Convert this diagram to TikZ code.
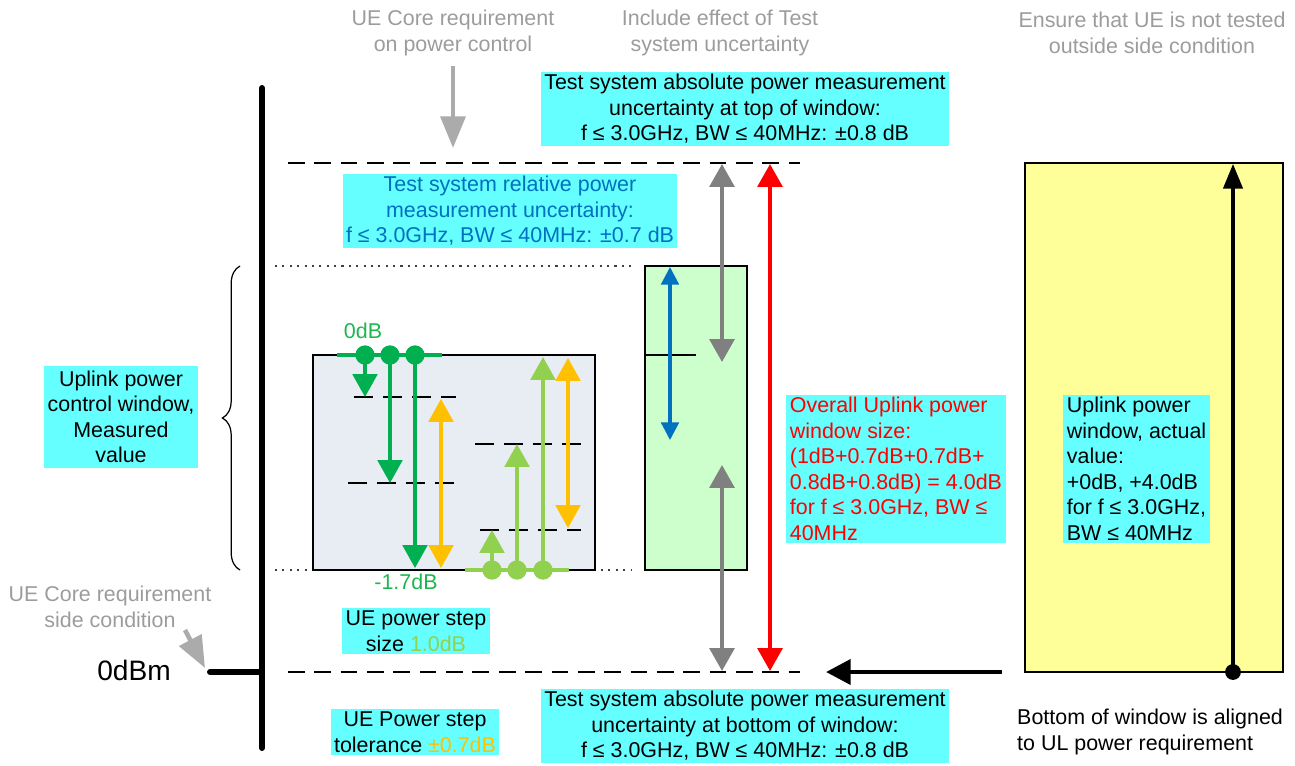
\documentclass[tikz,border=0pt]{standalone}
\usepackage{fontspec}
\setmainfont{Liberation Sans}
\usetikzlibrary{arrows.meta,decorations.pathreplacing}
\definecolor{lblcyan}{HTML}{66FFFF}
\definecolor{dgreen}{HTML}{00B050}
\definecolor{lgreen}{HTML}{92D050}
\definecolor{amber}{HTML}{FFC000}
\definecolor{ublue}{HTML}{0070C0}
\definecolor{notegray}{HTML}{9C9C9C}
\definecolor{arrgray}{HTML}{808080}
\definecolor{boxgray}{HTML}{E8ECF3}
\definecolor{boxgreen}{HTML}{CCFFCC}
\definecolor{boxyellow}{HTML}{FFFF99}

\begin{document}
\begin{tikzpicture}[x=0.02cm,y=-0.02cm,font=\fontsize{12.2}{14.5}\selectfont,
  lbl/.style={fill=lblcyan,inner xsep=2pt,inner ysep=1.5pt,align=center},
  note/.style={notegray,align=center},
  lvl/.style={thick,dash pattern=on 11pt off 5.5pt},
  longdash/.style={line width=1.1pt,dash pattern=on 9.5pt off 5.5pt},
  dots/.style={darkgray,line width=1pt,dash pattern=on 1.2pt off 3pt},
  gdot/.style={circle,fill=dgreen,inner sep=0pt,minimum size=11pt},
  ldot/.style={circle,fill=lgreen,inner sep=0pt,minimum size=11pt},
  garr/.style={dgreen,line width=1.8pt,-{Triangle[length=13pt,width=14pt]}},
  lgarr/.style={lgreen,line width=1.8pt,-{Triangle[length=13pt,width=14pt]}},
  oarr/.style={amber,line width=1.8pt,{Triangle[length=13pt,width=14pt]}-{Triangle[length=13pt,width=14pt]}},
  barr/.style={ublue,line width=1.8pt,{Triangle[length=10pt,width=10pt]}-{Triangle[length=10pt,width=10pt]}},
  grarr/.style={arrgray,line width=2.2pt,{Triangle[length=13pt,width=14pt]}-{Triangle[length=13pt,width=14pt]}},
  rarr/.style={red,line width=2.2pt,{Triangle[length=13pt,width=14pt]}-{Triangle[length=13pt,width=14pt]}},
  notearr/.style={notegray!85!white,line width=2.6pt,-{Triangle[length=18pt,width=14pt]}}]
  \useasboundingbox (0,0) rectangle (1295,765);
  % boxes
  \fill[boxyellow,draw=black,thick] (1025,163) rectangle (1283,672);
  \fill[boxgreen,draw=black,thick] (645,266) rectangle (747,570);
  \fill[boxgray,draw=black,thick] (313,355) rectangle (595,570);
  % axis with 0dBm tick
  \draw[line width=3.4pt,line cap=round] (262,88) -- (262,748);
  \draw[line width=3.4pt,line cap=round] (210,672) -- (262,672);
  \node (zero) at (134,670) {\fontsize{16}{18}\selectfont 0dBm};
  % window limits
  \draw[longdash] (288,163) -- (800,163);
  \draw[longdash] (288,672) -- (800,672);
  \draw[dots] (275,266) -- (632,266);
  \draw[dots] (275,570) -- (307,570) (601,570) -- (632,570);
  \draw[thick] (645,355) -- (696,355);
  \draw[decorate,decoration={brace,amplitude=10pt},line width=0.7pt] (240,570) -- (240,266);
  % step levels
  \draw[lvl] (354,397) -- (456,397);
  \draw[lvl] (348,483) -- (463,483);
  \draw[lvl] (475,444) -- (589,444);
  \draw[lvl] (480,530) -- (581,530);
  % steps down from 0dB
  \draw[dgreen,line width=1.8pt] (337,355) -- (442,355);
  \foreach \x/\n in {365/a,390/b,415/c}
    \node[gdot] (top\n) at (\x,355) {};
  \draw[garr] (topa.center) -- (365,397);
  \draw[garr] (topb.center) -- (390,483);
  \draw[garr] (topc.center) -- (415,568);
  \draw[oarr] (441,399) -- (441,568);
  % steps up from -1.7dB
  \draw[lgreen,line width=1.8pt] (465,570) -- (569,570);
  \foreach \x/\n in {492/a,517/b,543/c}
    \node[ldot] (bot\n) at (\x,570) {};
  \draw[lgarr] (bota.center) -- (492,530);
  \draw[lgarr] (botb.center) -- (517,444);
  \draw[lgarr] (botc.center) -- (543,357);
  \draw[oarr] (568,358) -- (568,528);
  \node[dgreen!80!lgreen] (zerodb) at (363,331) {0dB};
  \node[dgreen!80!lgreen] (minusdb) at (406,582) {-1.7dB};
  % uncertainties
  \draw[barr] (670,267) -- (670,440);
  \draw[grarr] (722,164) -- (722,362);
  \draw[grarr] (722,465) -- (722,671);
  \draw[rarr] (770,164) -- (770,671);
  % actual window
  \node[circle,fill=black,inner sep=0pt,minimum size=9pt] (base) at (1233,672) {};
  \draw[line width=1.8pt,-{Triangle[length=14pt,width=11pt]}] (base.center) -- (1233,164);
  \draw[line width=2.8pt,-{Triangle[length=14pt,width=14pt]}] (1002,672) -- (826,672);
  % notes
  \node[note] (corepc) at (453,33) {UE Core requirement\\on power control};
  \node[note] (inclts) at (720,33) {Include effect of Test\\system uncertainty};
  \node[note] (ensure) at (1152,33) {Ensure that UE is not tested\\outside side condition};
  \node[note] (coreside) at (110,607) {UE Core requirement\\side condition};
  \draw[notearr] (453,66) -- (453,148);
  \draw[notearr] (185,630) -- (205,668);
  \node[align=left,anchor=west] (aligned) at (1011,732) {Bottom of window is aligned\\to UL power requirement};
  % labels
  \node[lbl] (abstop) at (745,109) {Test system absolute power measurement\\uncertainty at top of window:\\f ≤ 3.0GHz, BW ≤ 40MHz: ±0.8 dB};
  \node[lbl,text=ublue] (relunc) at (510,211) {Test system relative power\\measurement uncertainty:\\f ≤ 3.0GHz, BW ≤ 40MHz: ±0.7 dB};
  \node[lbl] (absbot) at (745,726) {Test system absolute power measurement\\uncertainty at bottom of window:\\f ≤ 3.0GHz, BW ≤ 40MHz: ±0.8 dB};
  \node[lbl,inner ysep=3pt] (ulmeas) at (121,417) {Uplink power\\control window,\\Measured\\value};
  \node[lbl,text=red,align=left,anchor=west] (overall) at (786,469) {Overall Uplink power\\window size:\\(1dB+0.7dB+0.7dB+\\0.8dB+0.8dB) = 4.0dB\\for f ≤ 3.0GHz, BW ≤\\40MHz};
  \node[lbl,align=left,anchor=west] (ulact) at (1063,469) {Uplink power\\window, actual\\value:\\+0dB, +4.0dB\\for f ≤ 3.0GHz,\\BW ≤ 40MHz};
  \node[lbl] (stepsize) at (416,631) {UE power step\\size {\color{lgreen}1.0dB}};
  \node[lbl] (steptol) at (415,732) {UE Power step\\tolerance {\color{amber}±0.7dB}};
\end{tikzpicture}
\end{document}
